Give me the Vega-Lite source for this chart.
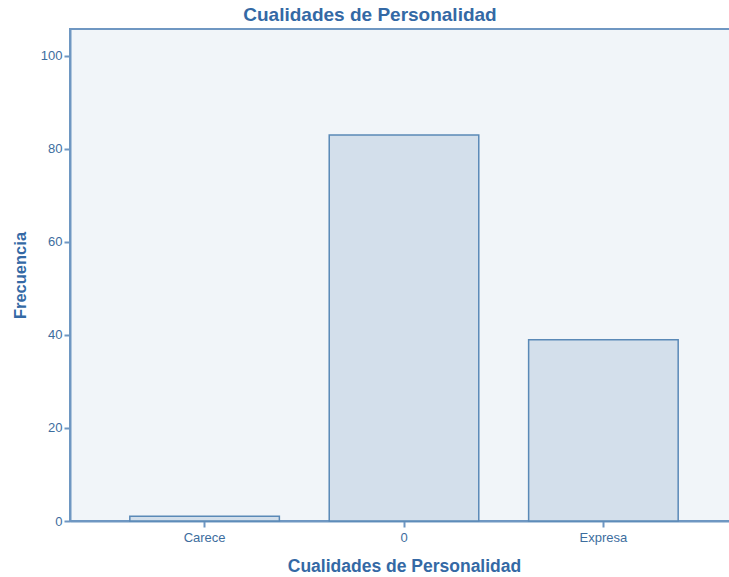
{
  "$schema": "https://vega.github.io/schema/vega-lite/v6.json",
  "autosize": "none",
  "padding": {"left": 70, "top": 29, "right": 0, "bottom": 56},
  "width": 668,
  "height": 492,
  "background": "#ffffff",
  "title": {
    "text": "Cualidades de Personalidad",
    "font": "Liberation Sans",
    "fontSize": 19,
    "fontWeight": "bold",
    "color": "#3469a5",
    "anchor": "middle",
    "dx": -34,
    "offset": 4
  },
  "config": {
    "view": {"fill": "#f1f5f9", "stroke": "#6f97c2", "strokeWidth": 2},
    "axis": {
      "labelFont": "Liberation Sans",
      "titleFont": "Liberation Sans",
      "labelColor": "#3d6d9e",
      "titleColor": "#3469a5",
      "domainColor": "#6f97c2",
      "tickColor": "#6f97c2",
      "domainWidth": 2,
      "tickWidth": 2,
      "tickSize": 6,
      "grid": false,
      "titleFontWeight": "bold"
    }
  },
  "data": {
    "values": [
      {"categoria": "Carece", "frecuencia": 1},
      {"categoria": "0", "frecuencia": 83},
      {"categoria": "Expresa", "frecuencia": 39}
    ]
  },
  "mark": {"type": "bar", "fill": "#d3dfeb", "stroke": "#5a89b7", "strokeWidth": 1.5},
  "encoding": {
    "x": {
      "field": "categoria",
      "type": "nominal",
      "sort": ["Carece", "0", "Expresa"],
      "scale": {"paddingInner": 0.25, "paddingOuter": 0.3},
      "axis": {
        "title": "Cualidades de Personalidad",
        "titleFontSize": 17.5,
        "labelFontSize": 13,
        "labelAngle": 0,
        "labelPadding": 4,
        "titlePadding": 13
      }
    },
    "y": {
      "field": "frecuencia",
      "type": "quantitative",
      "scale": {"domain": [0, 105.8], "nice": false},
      "axis": {
        "title": "Frecuencia",
        "titleFontSize": 16.5,
        "labelFontSize": 13,
        "values": [0, 20, 40, 60, 80, 100],
        "labelPadding": 2,
        "titlePadding": 12
      }
    }
  }
}
